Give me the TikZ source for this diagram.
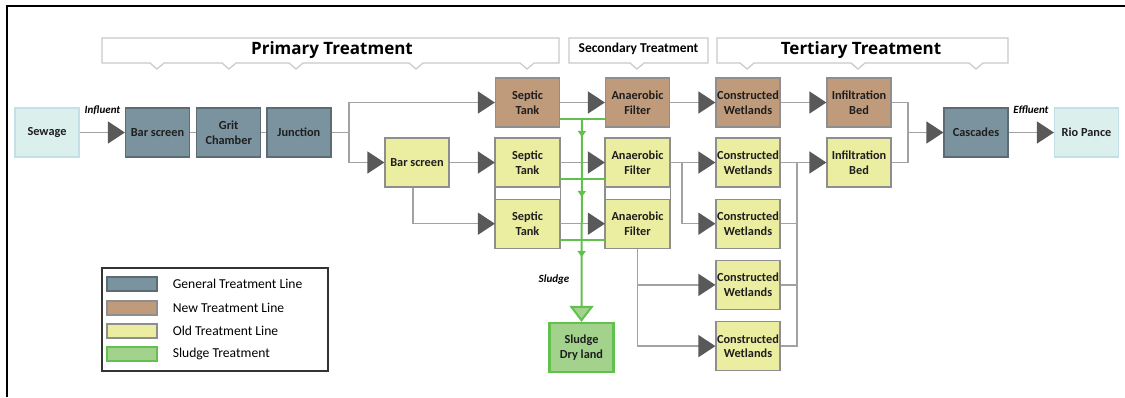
\documentclass[tikz,border=0pt]{standalone}
\usepackage{fontspec}
\setmainfont{Carlito}
\newfontfamily\titlefont{Open Sans}
\usepackage{tikz}
\usetikzlibrary{arrows.meta, positioning, fit, decorations.markings}

\definecolor{generalfill}{HTML}{7B939F}
\definecolor{generalline}{HTML}{5C6C74}
\definecolor{newfill}{HTML}{BF9A7B}
\definecolor{oldfill}{HTML}{EBEDA1}
\definecolor{boxline}{HTML}{8E8E8E}
\definecolor{waterfill}{HTML}{DBEFEC}
\definecolor{waterline}{HTML}{C3E0E8}
\definecolor{sludgefill}{HTML}{A3D28D}
\definecolor{sludgeline}{HTML}{62C04E}
\definecolor{linegray}{HTML}{A2A2A2}
\definecolor{tipgray}{HTML}{595959}
\definecolor{calloutline}{HTML}{C9C9C9}
\definecolor{textdark}{HTML}{1E1E1E}

\begin{document}
\begin{tikzpicture}[x=1pt, y=-1pt,
        box/.style={rectangle, draw=boxline, line width=1.2pt, minimum width=64pt, minimum height=49pt, inner sep=1pt, align=center, text=textdark, font=\bfseries\fontsize{12.3}{14.5}\selectfont},
        general_box/.style={box, fill=generalfill, draw=generalline},
        new_box/.style={box, fill=newfill},
        old_box/.style={box, fill=oldfill},
        water_box/.style={box, fill=waterfill, draw=waterline},
        sludge_box/.style={box, fill=sludgefill, draw=sludgeline, line width=2.2pt},
        pipe/.style={draw=linegray, line width=1.5pt},
        flow/.style={pipe, -{Triangle[length=17pt, width=22pt, color=tipgray]}},
        sludge_pipe/.style={draw=sludgeline, line width=2pt},
        callout/.style={draw=calloutline, line width=1.2pt, fill=white},
        title/.style={font=\titlefont\bfseries\fontsize{17}{20}\selectfont},
        tag/.style={font=\bfseries\itshape\fontsize{11}{13}\selectfont},
        swatch/.style={rectangle, line width=1.2pt, minimum width=50pt, minimum height=14pt, inner sep=0},
        key_text/.style={inner sep=0, anchor=west, font=\fontsize{13.6}{15}\selectfont}
      ]
        \useasboundingbox (0,0) rectangle (1125,397);
        \draw[line width=2pt] (6.5,397) -- (6.5,5.5) -- (1125,5.5);

        % Treatment stage callouts
        \draw[callout] (102,38) -- (559,38) -- (559,63) \foreach \n in {527,416,296,229,157} { -- ({\n+7},63) -- (\n,69) -- ({\n-7},63) } -- (102,63) -- cycle;
        \draw[callout] (569,38) -- (708,38) -- (708,63) -- (644,63) -- (637,69) -- (630,63) -- (569,63) -- cycle;
        \draw[callout] (717,38) -- (1008,38) -- (1008,63) \foreach \n in {976,858,747} { -- ({\n+7},63) -- (\n,69) -- ({\n-7},63) } -- (717,63) -- cycle;
        \node (primary_label) [title] at (332,50) {Primary Treatment};
        \node (secondary_label) [font=\bfseries\fontsize{13.5}{16}\selectfont] at (638.5,49) {Secondary Treatment};
        \node (tertiary_label) [title] at (861,50) {Tertiary Treatment};

        % General line
        \node (sewage) [water_box] at (47,132.5) {Sewage};
        \node (bar_general) [general_box] at (157.5,132.5) {Bar screen};
        \node (grit) [general_box, right=6pt of bar_general] {Grit\\Chamber};
        \node (junction) [general_box, right=5pt of grit] {Junction};

        % New line
        \node (septic_new) [new_box] at (527.5,102.5) {Septic\\Tank};
        \node (anaerobic_new) [new_box] at (637.5,102.5) {Anaerobic\\Filter};
        \node (wetlands_new) [new_box] at (748,102.5) {Constructed\\Wetlands};
        \node (infil_new) [new_box] at (859,102.5) {Infiltration\\Bed};

        % Old line
        \node (bar_old) [old_box] at (417,162.5) {Bar screen};
        \node (septic_2) [old_box] at (527.5,162.5) {Septic\\Tank};
        \node (septic_3) [old_box, below=11pt of septic_2] {Septic\\Tank};
        \node (anaerobic_2) [old_box] at (637.5,162.5) {Anaerobic\\Filter};
        \node (anaerobic_3) [old_box, below=11pt of anaerobic_2] {Anaerobic\\Filter};
        \node (septic_group) [fit=(septic_2)(septic_3), draw=boxline, line width=1.2pt, inner sep=0] {};
        \node (anaerobic_group) [fit=(anaerobic_2)(anaerobic_3), draw=boxline, line width=1.2pt, inner sep=0] {};
        \node (wetlands_2) [old_box] at (748,162.5) {Constructed\\Wetlands};
        \node (wetlands_3) [old_box, below=11pt of wetlands_2] {Constructed\\Wetlands};
        \node (wetlands_4) [old_box, below=11pt of wetlands_3] {Constructed\\Wetlands};
        \node (wetlands_5) [old_box, below=11pt of wetlands_4] {Constructed\\Wetlands};
        \node (infil_old) [old_box] at (859,162.5) {Infiltration\\Bed};

        % Outlet
        \node (cascades) [general_box] at (976,132.5) {Cascades};
        \node (rio) [water_box] at (1086.5,132.5) {Rio Pance};

        % Sludge
        \node (sludge_dry) [sludge_box] at (581.5,347.5) {Sludge\\Dry land};

        % Labels
        \node (influent) [tag] at (102.5,110) {Influent};
        \node (effluent) [tag] at (1031,110) {Effluent};
        \node (sludge_tag) [tag] at (554,280) {Sludge};

        % Split and join points
        \coordinate (junction_split) at (349,132.5);
        \coordinate (anaerobic_split) at (682,162.5);
        \coordinate (wetlands_join) at (797,162.5);
        \coordinate (infil_join) at (908,132.5);
        \coordinate (sludge_top) at (582,118);

        % Arrows
        \draw [flow] (sewage) -- (bar_general);
        \draw [pipe] (bar_general) -- (grit);
        \draw [pipe] (grit) -- (junction);
        \draw [pipe] (junction) -- (junction_split);
        \draw [flow] (junction_split) |- (septic_new.west);
        \draw [flow] (junction_split) |- (bar_old.west);
        \draw [flow] (bar_old) -- (septic_2);
        \draw [flow] ([xshift=-4pt]bar_old.south) |- (septic_3.west);
        \draw [flow] (septic_new) -- (anaerobic_new);
        \draw [flow] (septic_2) -- (anaerobic_2);
        \draw [flow] (septic_3) -- (anaerobic_3);
        \draw [flow] (anaerobic_new) -- (wetlands_new);
        \draw [flow] (wetlands_new) -- (infil_new);
        \draw [flow] (anaerobic_2) -- (wetlands_2);
        \draw [flow] (anaerobic_split) |- (wetlands_3.west);
        \draw [flow] (anaerobic_3.south) |- (wetlands_4.west);
        \draw [flow] (anaerobic_3.south) |- (wetlands_5.west);
        \draw [flow] (wetlands_2) -- (infil_old);
        \draw [pipe] (wetlands_3.east) -- (wetlands_3.east -| wetlands_join);
        \draw [pipe] (wetlands_4.east) -- (wetlands_4.east -| wetlands_join);
        \draw [pipe] (wetlands_5.east) -| (wetlands_join);
        \draw [pipe] (infil_new.east) -| (infil_join);
        \draw [pipe] (infil_old.east) -| (infil_join);
        \draw [flow] (infil_join) -- (cascades);
        \draw [flow] (cascades) -- (rio);

        % Sludge lines
        \draw [sludge_pipe] ([yshift=9pt]septic_new.south east) -- ([yshift=9pt]anaerobic_new.south west);
        \draw [sludge_pipe] ([yshift=9pt]septic_2.south east) -- ([yshift=9pt]anaerobic_2.south west);
        \draw [sludge_pipe] ([yshift=9pt]septic_3.south east) -- ([yshift=9pt]anaerobic_3.south west);
        \draw [sludge_pipe, -{Triangle[length=16pt, width=24pt, fill=sludgefill]},
          postaction={decorate}, decoration={markings,
            mark=at position 19pt with {\arrow{Triangle[length=6pt, width=8pt]}},
            mark=at position 79pt with {\arrow{Triangle[length=6pt, width=8pt]}},
            mark=at position 139pt with {\arrow{Triangle[length=6pt, width=8pt]}}}]
          (sludge_top) -- (sludge_dry.north);

        % Legend
        \node (legend_frame) [draw=black!80, line width=1.5pt, minimum width=226pt, minimum height=103pt] at (215,319.5) {};
        \node (key_general) [swatch, fill=generalfill, draw=generalline] at (132,284) {};
        \node (key_new) [swatch, fill=newfill, draw=boxline] at (132,308) {};
        \node (key_old) [swatch, fill=oldfill, draw=boxline] at (132,331) {};
        \node (key_sludge) [swatch, fill=sludgefill, draw=sludgeline] at (132,354) {};
        \node (key_general_text) [key_text, right=15pt of key_general] {General Treatment Line};
        \node (key_new_text) [key_text, right=15pt of key_new] {New Treatment Line};
        \node (key_old_text) [key_text, right=15pt of key_old] {Old Treatment Line};
        \node (key_sludge_text) [key_text, right=15pt of key_sludge] {Sludge Treatment};
      \end{tikzpicture}
\end{document}
